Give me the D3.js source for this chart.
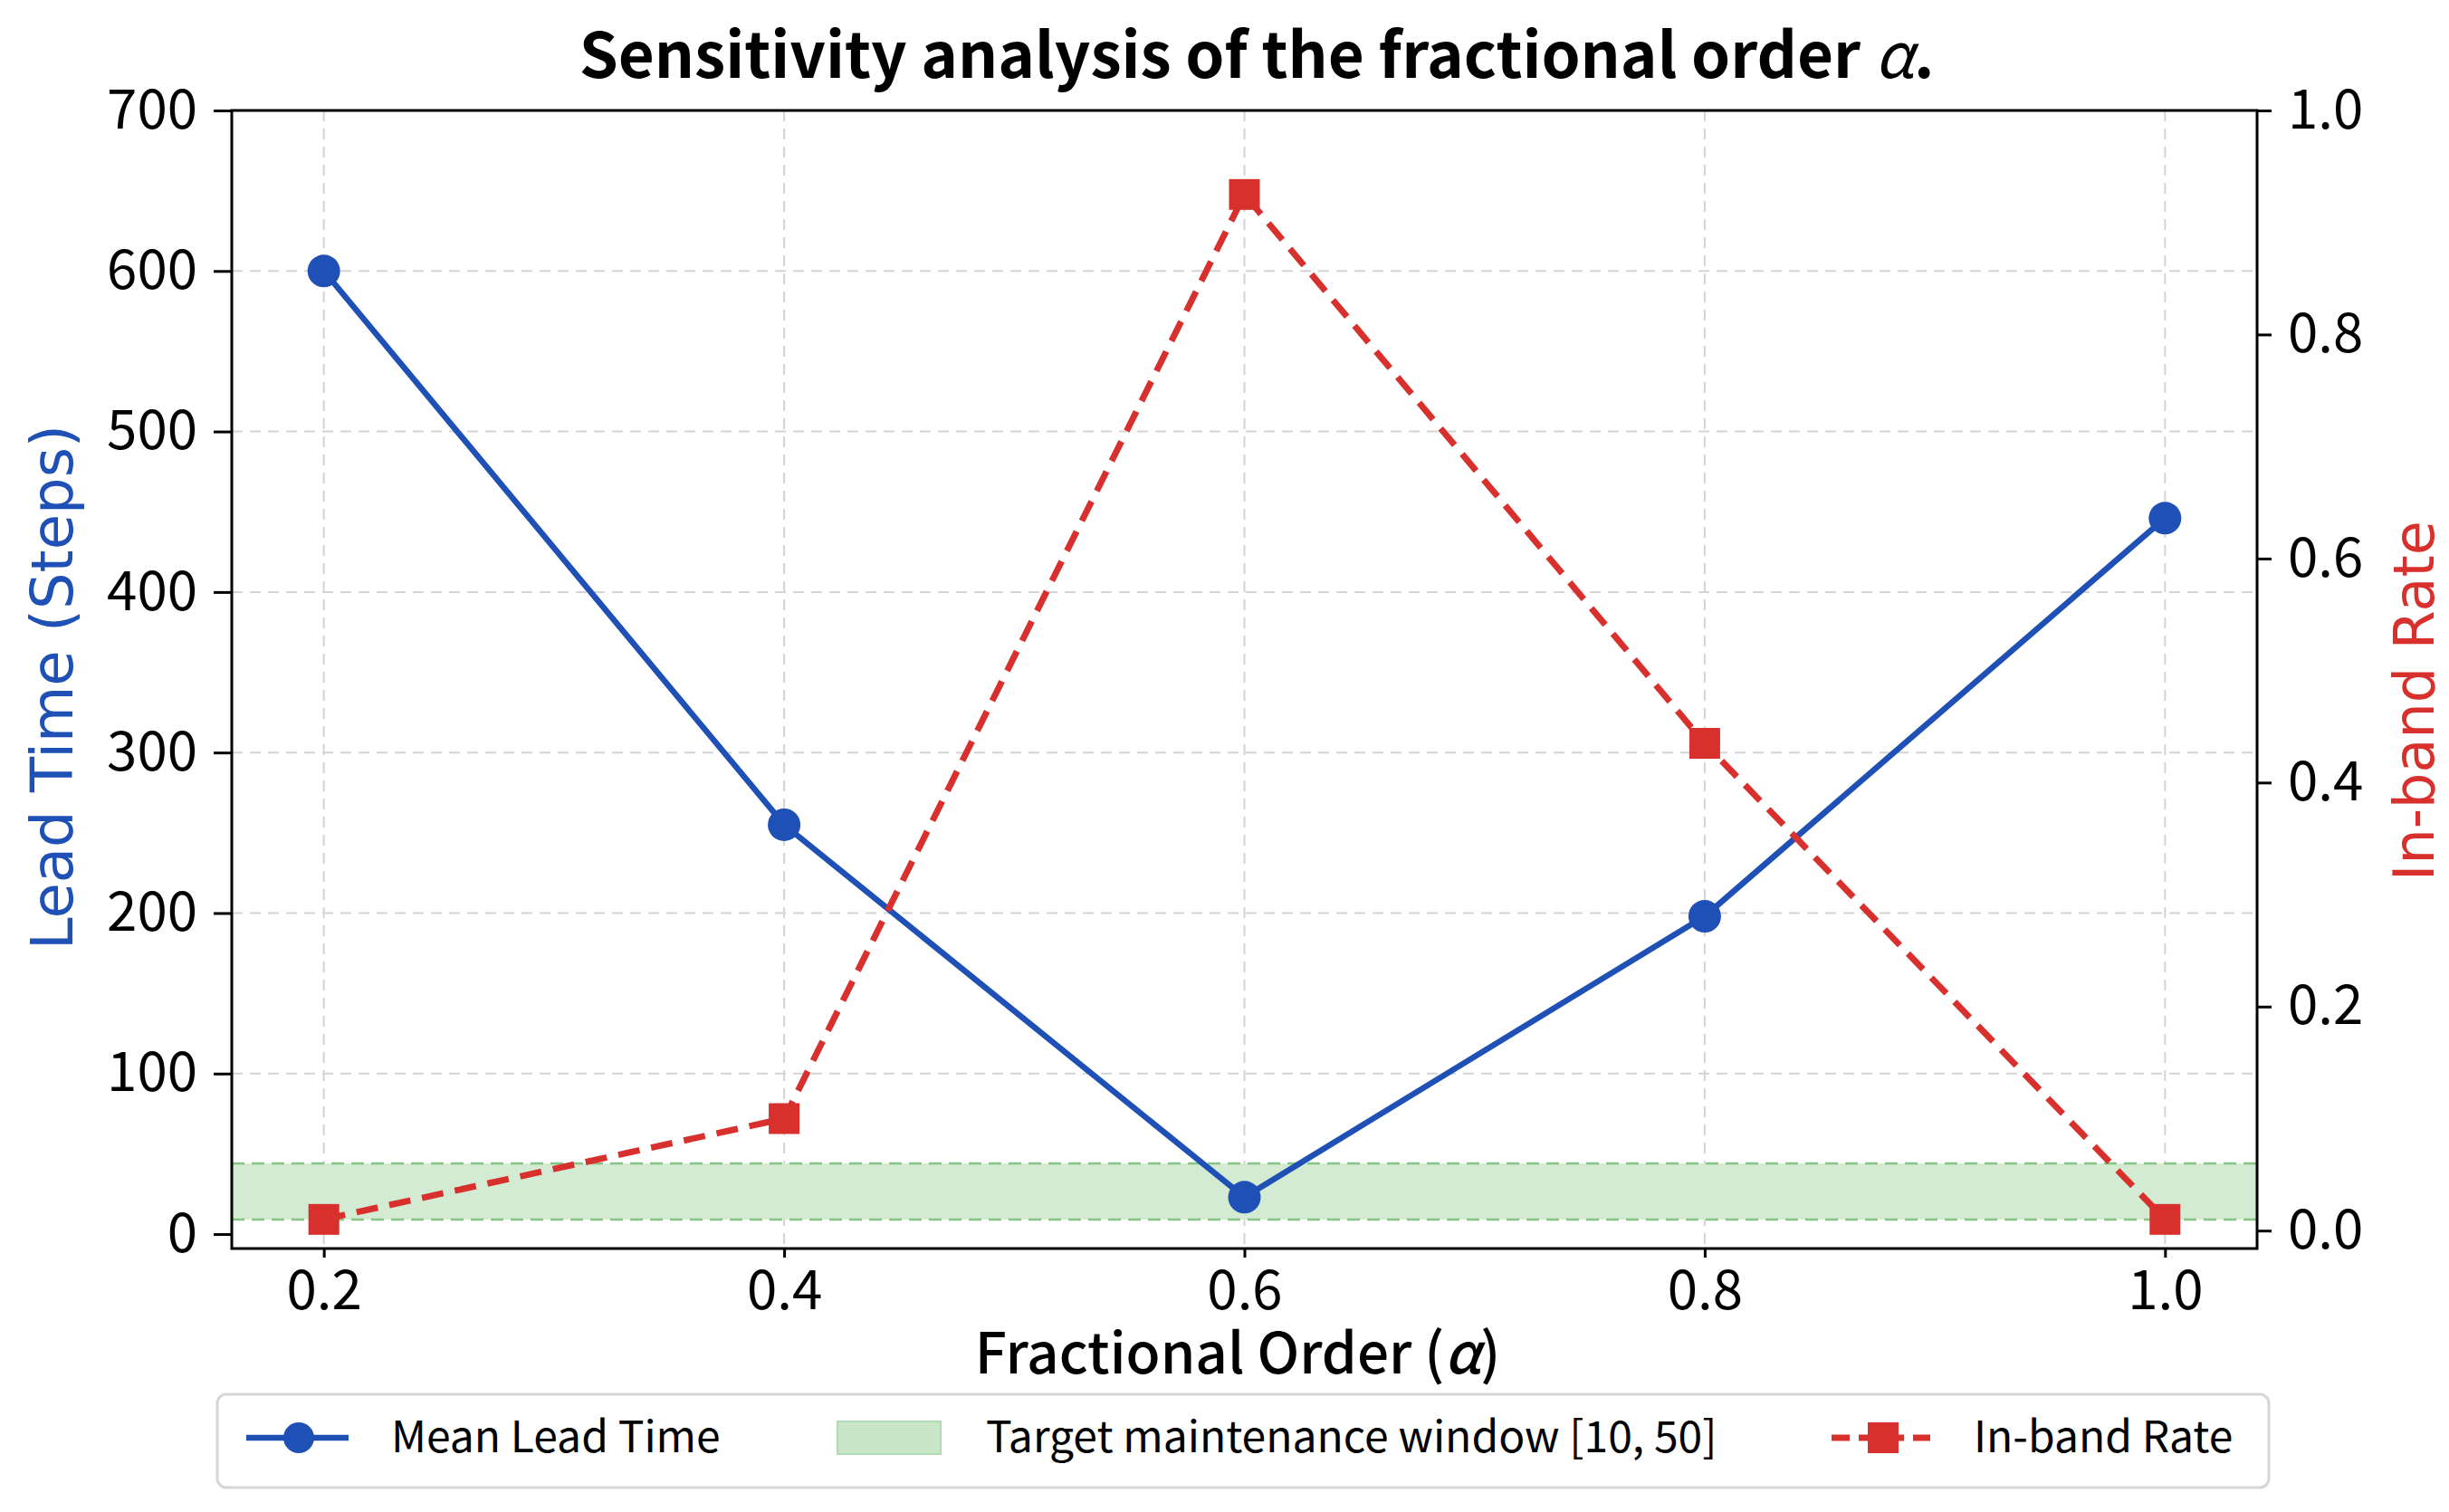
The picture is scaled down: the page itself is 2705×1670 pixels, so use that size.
<!DOCTYPE html>
<html lang="en">

<head>
    <meta charset="UTF-8">
    <title>Sensitivity analysis of the fractional order α</title>
    <script src="https://d3js.org/d3.v7.min.js"></script>
    <style>
        body { margin: 0; background: #fff; }
        svg { display: block; }
    </style>
</head>

<body>
    <div id="chart"></div>

    <script>
        // Data
        const alphaValues = [0.2, 0.4, 0.6, 0.8, 1.0];
        const leadTime = [600, 255, 23, 198, 446];          // Mean Lead Time (Steps)
        const inBandRate = [0.01, 0.10, 0.925, 0.435, 0.01]; // In-band Rate
        const targetWindow = [9, 44];                        // shaded band as drawn
        const leftTicks = [0, 100, 200, 300, 400, 500, 600, 700];
        const rightTicks = [0, 0.2, 0.4, 0.6, 0.8, 1.0];

        const W = 2705, H = 1670;
        const margin = { top: 122, right: 212, bottom: 291, left: 256 };
        const iw = W - margin.left - margin.right;
        const ih = H - margin.top - margin.bottom;

        const blue = "#1f50b5";
        const red = "#d7302d";
        const tickFont = "'Noto Sans CJK SC', 'Noto Sans', sans-serif";

        const svg = d3.select("#chart")
            .append("svg")
            .attr("width", W)
            .attr("height", H);

        svg.append("rect").attr("width", W).attr("height", H).attr("fill", "#fff");

        const g = svg.append("g")
            .attr("transform", `translate(${margin.left},${margin.top})`);

        // scales (matplotlib-like margins)
        const x = d3.scaleLinear().domain([0.16, 1.04]).range([0, iw]);
        const yL = d3.scaleLinear().domain([-9, 700]).range([ih, 0]);
        const yR = d3.scaleLinear().domain([-0.016, 1.0]).range([ih, 0]);

        // grid
        g.append("g").selectAll("line")
            .data(alphaValues)
            .enter().append("line")
            .attr("x1", d => x(d)).attr("x2", d => x(d))
            .attr("y1", 0).attr("y2", ih)
            .attr("stroke", "#d4d4d4").attr("stroke-width", 2)
            .attr("stroke-dasharray", "12,8");

        g.append("g").selectAll("line")
            .data(leftTicks.filter(d => d > 0))
            .enter().append("line")
            .attr("x1", 0).attr("x2", iw)
            .attr("y1", d => yL(d)).attr("y2", d => yL(d))
            .attr("stroke", "#d4d4d4").attr("stroke-width", 2)
            .attr("stroke-dasharray", "12,8");

        // target maintenance window
        g.append("rect")
            .attr("x", 0).attr("width", iw)
            .attr("y", yL(targetWindow[1]))
            .attr("height", yL(targetWindow[0]) - yL(targetWindow[1]))
            .attr("fill", "#d3ebd3");

        g.append("g").selectAll("line")
            .data(targetWindow)
            .enter().append("line")
            .attr("x1", 0).attr("x2", iw)
            .attr("y1", d => yL(d)).attr("y2", d => yL(d))
            .attr("stroke", "#86c486").attr("stroke-width", 2.5)
            .attr("stroke-dasharray", "14,8");

        // Mean Lead Time (left axis)
        const blueLine = d3.line()
            .x((d, i) => x(alphaValues[i]))
            .y(d => yL(d));

        g.append("path")
            .datum(leadTime)
            .attr("d", blueLine)
            .attr("fill", "none")
            .attr("stroke", blue)
            .attr("stroke-width", 6.5);

        g.selectAll(".dot")
            .data(leadTime)
            .enter().append("circle")
            .attr("class", "dot")
            .attr("cx", (d, i) => x(alphaValues[i]))
            .attr("cy", d => yL(d))
            .attr("r", 18)
            .attr("fill", blue);

        // In-band Rate (right axis)
        const redLine = d3.line()
            .x((d, i) => x(alphaValues[i]))
            .y(d => yR(d));

        g.append("path")
            .datum(inBandRate)
            .attr("d", redLine)
            .attr("fill", "none")
            .attr("stroke", red)
            .attr("stroke-width", 7)
            .attr("stroke-dasharray", "24,13");

        g.selectAll(".sq")
            .data(inBandRate)
            .enter().append("rect")
            .attr("class", "sq")
            .attr("x", (d, i) => x(alphaValues[i]) - 17)
            .attr("y", d => yR(d) - 17)
            .attr("width", 34).attr("height", 34)
            .attr("fill", red);

        // axes
        const styleAxis = sel => {
            sel.select(".domain").remove();
            sel.selectAll(".tick line").attr("stroke", "#000").attr("stroke-width", 3);
            sel.selectAll(".tick text")
                .attr("fill", "#000")
                .style("font-family", tickFont)
                .style("font-size", "60px");
        };

        g.append("g")
            .attr("transform", `translate(0,${ih})`)
            .call(d3.axisBottom(x).tickValues(alphaValues).tickFormat(d3.format(".1f")).tickSize(10).tickPadding(14))
            .call(styleAxis);

        g.append("g")
            .call(d3.axisLeft(yL).tickValues(leftTicks).tickSize(20).tickPadding(18))
            .call(styleAxis);

        g.append("g")
            .attr("transform", `translate(${iw},0)`)
            .call(d3.axisRight(yR).tickValues(rightTicks).tickFormat(d3.format(".1f")).tickSize(16).tickPadding(18))
            .call(styleAxis);

        // frame
        g.append("rect")
            .attr("width", iw).attr("height", ih)
            .attr("fill", "none")
            .attr("stroke", "#000").attr("stroke-width", 3);

        // title
        const title = svg.append("text")
            .attr("x", 1388).attr("y", 86)
            .attr("text-anchor", "middle")
            .style("font-family", tickFont)
            .style("font-weight", "bold")
            .style("font-size", "69px")
            .attr("fill", "#000");
        title.append("tspan").text("Sensitivity analysis of the fractional order ");
        title.append("tspan").style("font-style", "italic").style("font-weight", "normal").text("α");
        title.append("tspan").text(".");

        // axis labels
        const xl = svg.append("text")
            .attr("x", 1367).attr("y", 1517)
            .attr("text-anchor", "middle")
            .style("font-family", tickFont)
            .style("font-weight", "500")
            .style("font-size", "62px")
            .attr("fill", "#000");
        xl.append("tspan").text("Fractional Order (");
        xl.append("tspan").style("font-style", "italic").text("α");
        xl.append("tspan").text(")");

        svg.append("text")
            .attr("transform", "translate(80,759) rotate(-90)")
            .attr("text-anchor", "middle")
            .style("font-family", "'DejaVu Sans', sans-serif")
            .style("font-size", "64px")
            .attr("fill", blue)
            .text("Lead Time (Steps)");

        svg.append("text")
            .attr("transform", "translate(2688,774) rotate(-90)")
            .attr("text-anchor", "middle")
            .style("font-family", "'DejaVu Sans', sans-serif")
            .style("font-size", "62px")
            .attr("fill", red)
            .text("In-band Rate");

        // legend
        const lg = svg.append("g").attr("transform", "translate(240,1540)");
        lg.append("rect")
            .attr("width", 2266).attr("height", 103).attr("rx", 10)
            .attr("fill", "#fff").attr("stroke", "#d6d6d6").attr("stroke-width", 3);

        const legendY = 48;
        const legendText = (xPos, txt) => lg.append("text")
            .attr("x", xPos).attr("y", legendY + 16)
            .style("font-family", tickFont)
            .style("font-size", "48px")
            .attr("fill", "#000")
            .text(txt);

        lg.append("line").attr("x1", 32).attr("x2", 145).attr("y1", legendY).attr("y2", legendY)
            .attr("stroke", blue).attr("stroke-width", 6.5);
        lg.append("circle").attr("cx", 90).attr("cy", legendY).attr("r", 17).attr("fill", blue);
        legendText(192, "Mean Lead Time");

        lg.append("rect").attr("x", 685).attr("y", legendY - 18).attr("width", 114).attr("height", 36)
            .attr("fill", "#c9e6c9").attr("stroke", "#b3dbb3").attr("stroke-width", 2);
        legendText(849, "Target maintenance window [10, 50]");

        lg.append("line").attr("x1", 1783).attr("x2", 1892).attr("y1", legendY).attr("y2", legendY)
            .attr("stroke", red).attr("stroke-width", 7).attr("stroke-dasharray", "20,10");
        lg.append("rect").attr("x", 1823).attr("y", legendY - 17).attr("width", 34).attr("height", 34).attr("fill", red);
        legendText(1940, "In-band Rate");
    </script>
</body>

</html>
